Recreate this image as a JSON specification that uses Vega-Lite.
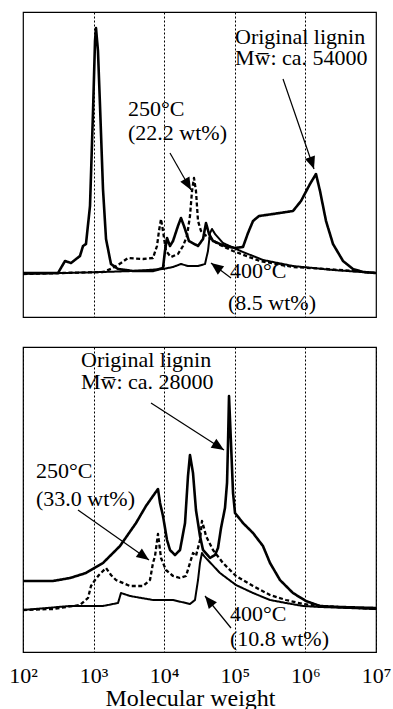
{
  "$schema": "https://vega.github.io/schema/vega-lite/v6.json",
  "background": "white",
  "padding": {"left": 8, "top": 11, "right": 2, "bottom": 2},
  "spacing": 28,
  "config": {
    "font": "Liberation Serif",
    "view": {"stroke": "black", "strokeWidth": 1.2},
    "axis": {"gridColor": "black", "gridDash": [2, 2], "gridWidth": 1, "gridOpacity": 1}
  },
  "datasets": {
    "curves": [
      {"panel": "a", "series": "Original lignin", "log_mw": 2.000, "intensity": 44},
      {"panel": "a", "series": "Original lignin", "log_mw": 2.283, "intensity": 44},
      {"panel": "a", "series": "Original lignin", "log_mw": 2.496, "intensity": 44},
      {"panel": "a", "series": "Original lignin", "log_mw": 2.595, "intensity": 56},
      {"panel": "a", "series": "Original lignin", "log_mw": 2.680, "intensity": 54},
      {"panel": "a", "series": "Original lignin", "log_mw": 2.807, "intensity": 61},
      {"panel": "a", "series": "Original lignin", "log_mw": 2.850, "intensity": 71},
      {"panel": "a", "series": "Original lignin", "log_mw": 2.892, "intensity": 73},
      {"panel": "a", "series": "Original lignin", "log_mw": 2.949, "intensity": 111},
      {"panel": "a", "series": "Original lignin", "log_mw": 2.992, "intensity": 206},
      {"panel": "a", "series": "Original lignin", "log_mw": 3.020, "intensity": 276},
      {"panel": "a", "series": "Original lignin", "log_mw": 3.034, "intensity": 289},
      {"panel": "a", "series": "Original lignin", "log_mw": 3.062, "intensity": 266},
      {"panel": "a", "series": "Original lignin", "log_mw": 3.091, "intensity": 211},
      {"panel": "a", "series": "Original lignin", "log_mw": 3.133, "intensity": 128},
      {"panel": "a", "series": "Original lignin", "log_mw": 3.176, "intensity": 78},
      {"panel": "a", "series": "Original lignin", "log_mw": 3.246, "intensity": 53},
      {"panel": "a", "series": "Original lignin", "log_mw": 3.346, "intensity": 48},
      {"panel": "a", "series": "Original lignin", "log_mw": 3.558, "intensity": 46},
      {"panel": "a", "series": "Original lignin", "log_mw": 3.841, "intensity": 46},
      {"panel": "a", "series": "Original lignin", "log_mw": 3.983, "intensity": 49},
      {"panel": "a", "series": "Original lignin", "log_mw": 4.011, "intensity": 66},
      {"panel": "a", "series": "Original lignin", "log_mw": 4.040, "intensity": 79},
      {"panel": "a", "series": "Original lignin", "log_mw": 4.082, "intensity": 71},
      {"panel": "a", "series": "Original lignin", "log_mw": 4.125, "intensity": 76},
      {"panel": "a", "series": "Original lignin", "log_mw": 4.195, "intensity": 91},
      {"panel": "a", "series": "Original lignin", "log_mw": 4.238, "intensity": 99},
      {"panel": "a", "series": "Original lignin", "log_mw": 4.280, "intensity": 91},
      {"panel": "a", "series": "Original lignin", "log_mw": 4.351, "intensity": 76},
      {"panel": "a", "series": "Original lignin", "log_mw": 4.479, "intensity": 71},
      {"panel": "a", "series": "Original lignin", "log_mw": 4.550, "intensity": 78},
      {"panel": "a", "series": "Original lignin", "log_mw": 4.592, "intensity": 94},
      {"panel": "a", "series": "Original lignin", "log_mw": 4.635, "intensity": 83},
      {"panel": "a", "series": "Original lignin", "log_mw": 4.691, "intensity": 76},
      {"panel": "a", "series": "Original lignin", "log_mw": 4.861, "intensity": 71},
      {"panel": "a", "series": "Original lignin", "log_mw": 5.003, "intensity": 69},
      {"panel": "a", "series": "Original lignin", "log_mw": 5.116, "intensity": 70},
      {"panel": "a", "series": "Original lignin", "log_mw": 5.187, "intensity": 84},
      {"panel": "a", "series": "Original lignin", "log_mw": 5.258, "intensity": 96},
      {"panel": "a", "series": "Original lignin", "log_mw": 5.343, "intensity": 101},
      {"panel": "a", "series": "Original lignin", "log_mw": 5.541, "intensity": 103},
      {"panel": "a", "series": "Original lignin", "log_mw": 5.824, "intensity": 106},
      {"panel": "a", "series": "Original lignin", "log_mw": 5.938, "intensity": 116},
      {"panel": "a", "series": "Original lignin", "log_mw": 6.065, "intensity": 133},
      {"panel": "a", "series": "Original lignin", "log_mw": 6.150, "intensity": 143},
      {"panel": "a", "series": "Original lignin", "log_mw": 6.207, "intensity": 126},
      {"panel": "a", "series": "Original lignin", "log_mw": 6.292, "intensity": 96},
      {"panel": "a", "series": "Original lignin", "log_mw": 6.391, "intensity": 73},
      {"panel": "a", "series": "Original lignin", "log_mw": 6.533, "intensity": 56},
      {"panel": "a", "series": "Original lignin", "log_mw": 6.674, "intensity": 48},
      {"panel": "a", "series": "Original lignin", "log_mw": 6.816, "intensity": 45},
      {"panel": "a", "series": "Original lignin", "log_mw": 7.000, "intensity": 44},

      {"panel": "a", "series": "250°C", "log_mw": 2.000, "intensity": 43},
      {"panel": "a", "series": "250°C", "log_mw": 2.567, "intensity": 44},
      {"panel": "a", "series": "250°C", "log_mw": 3.133, "intensity": 45},
      {"panel": "a", "series": "250°C", "log_mw": 3.275, "intensity": 49},
      {"panel": "a", "series": "250°C", "log_mw": 3.388, "intensity": 54},
      {"panel": "a", "series": "250°C", "log_mw": 3.487, "intensity": 59},
      {"panel": "a", "series": "250°C", "log_mw": 3.700, "intensity": 58},
      {"panel": "a", "series": "250°C", "log_mw": 3.841, "intensity": 59},
      {"panel": "a", "series": "250°C", "log_mw": 3.898, "intensity": 71},
      {"panel": "a", "series": "250°C", "log_mw": 3.926, "intensity": 86},
      {"panel": "a", "series": "250°C", "log_mw": 3.955, "intensity": 98},
      {"panel": "a", "series": "250°C", "log_mw": 3.983, "intensity": 86},
      {"panel": "a", "series": "250°C", "log_mw": 4.025, "intensity": 66},
      {"panel": "a", "series": "250°C", "log_mw": 4.096, "intensity": 60},
      {"panel": "a", "series": "250°C", "log_mw": 4.195, "intensity": 63},
      {"panel": "a", "series": "250°C", "log_mw": 4.266, "intensity": 71},
      {"panel": "a", "series": "250°C", "log_mw": 4.323, "intensity": 81},
      {"panel": "a", "series": "250°C", "log_mw": 4.365, "intensity": 101},
      {"panel": "a", "series": "250°C", "log_mw": 4.394, "intensity": 126},
      {"panel": "a", "series": "250°C", "log_mw": 4.422, "intensity": 139},
      {"panel": "a", "series": "250°C", "log_mw": 4.450, "intensity": 126},
      {"panel": "a", "series": "250°C", "log_mw": 4.479, "intensity": 96},
      {"panel": "a", "series": "250°C", "log_mw": 4.521, "intensity": 86},
      {"panel": "a", "series": "250°C", "log_mw": 4.578, "intensity": 82},
      {"panel": "a", "series": "250°C", "log_mw": 4.649, "intensity": 79},
      {"panel": "a", "series": "250°C", "log_mw": 4.762, "intensity": 73},
      {"panel": "a", "series": "250°C", "log_mw": 4.975, "intensity": 66},
      {"panel": "a", "series": "250°C", "log_mw": 5.357, "intensity": 56},
      {"panel": "a", "series": "250°C", "log_mw": 5.824, "intensity": 50},
      {"panel": "a", "series": "250°C", "log_mw": 6.292, "intensity": 48},
      {"panel": "a", "series": "250°C", "log_mw": 6.674, "intensity": 46},
      {"panel": "a", "series": "250°C", "log_mw": 7.000, "intensity": 44},

      {"panel": "a", "series": "400°C", "log_mw": 2.000, "intensity": 43},
      {"panel": "a", "series": "400°C", "log_mw": 2.567, "intensity": 44},
      {"panel": "a", "series": "400°C", "log_mw": 3.133, "intensity": 45},
      {"panel": "a", "series": "400°C", "log_mw": 3.558, "intensity": 46},
      {"panel": "a", "series": "400°C", "log_mw": 3.983, "intensity": 48},
      {"panel": "a", "series": "400°C", "log_mw": 4.125, "intensity": 50},
      {"panel": "a", "series": "400°C", "log_mw": 4.238, "intensity": 53},
      {"panel": "a", "series": "400°C", "log_mw": 4.337, "intensity": 51},
      {"panel": "a", "series": "400°C", "log_mw": 4.479, "intensity": 51},
      {"panel": "a", "series": "400°C", "log_mw": 4.578, "intensity": 53},
      {"panel": "a", "series": "400°C", "log_mw": 4.620, "intensity": 66},
      {"panel": "a", "series": "400°C", "log_mw": 4.649, "intensity": 84},
      {"panel": "a", "series": "400°C", "log_mw": 4.677, "intensity": 88},
      {"panel": "a", "series": "400°C", "log_mw": 4.720, "intensity": 83},
      {"panel": "a", "series": "400°C", "log_mw": 4.833, "intensity": 74},
      {"panel": "a", "series": "400°C", "log_mw": 5.116, "intensity": 65},
      {"panel": "a", "series": "400°C", "log_mw": 5.399, "intensity": 57},
      {"panel": "a", "series": "400°C", "log_mw": 5.824, "intensity": 51},
      {"panel": "a", "series": "400°C", "log_mw": 6.391, "intensity": 47},
      {"panel": "a", "series": "400°C", "log_mw": 7.000, "intensity": 44},

      {"panel": "b", "series": "Original lignin", "log_mw": 2.000, "intensity": 71},
      {"panel": "b", "series": "Original lignin", "log_mw": 2.425, "intensity": 71},
      {"panel": "b", "series": "Original lignin", "log_mw": 2.666, "intensity": 74},
      {"panel": "b", "series": "Original lignin", "log_mw": 2.892, "intensity": 79},
      {"panel": "b", "series": "Original lignin", "log_mw": 3.133, "intensity": 89},
      {"panel": "b", "series": "Original lignin", "log_mw": 3.374, "intensity": 106},
      {"panel": "b", "series": "Original lignin", "log_mw": 3.601, "intensity": 129},
      {"panel": "b", "series": "Original lignin", "log_mw": 3.742, "intensity": 146},
      {"panel": "b", "series": "Original lignin", "log_mw": 3.841, "intensity": 156},
      {"panel": "b", "series": "Original lignin", "log_mw": 3.912, "intensity": 163},
      {"panel": "b", "series": "Original lignin", "log_mw": 3.941, "intensity": 149},
      {"panel": "b", "series": "Original lignin", "log_mw": 3.983, "intensity": 136},
      {"panel": "b", "series": "Original lignin", "log_mw": 4.040, "intensity": 112},
      {"panel": "b", "series": "Original lignin", "log_mw": 4.082, "intensity": 102},
      {"panel": "b", "series": "Original lignin", "log_mw": 4.153, "intensity": 97},
      {"panel": "b", "series": "Original lignin", "log_mw": 4.224, "intensity": 102},
      {"panel": "b", "series": "Original lignin", "log_mw": 4.295, "intensity": 129},
      {"panel": "b", "series": "Original lignin", "log_mw": 4.337, "intensity": 176},
      {"panel": "b", "series": "Original lignin", "log_mw": 4.365, "intensity": 197},
      {"panel": "b", "series": "Original lignin", "log_mw": 4.408, "intensity": 179},
      {"panel": "b", "series": "Original lignin", "log_mw": 4.450, "intensity": 142},
      {"panel": "b", "series": "Original lignin", "log_mw": 4.507, "intensity": 116},
      {"panel": "b", "series": "Original lignin", "log_mw": 4.550, "intensity": 102},
      {"panel": "b", "series": "Original lignin", "log_mw": 4.649, "intensity": 94},
      {"panel": "b", "series": "Original lignin", "log_mw": 4.720, "intensity": 97},
      {"panel": "b", "series": "Original lignin", "log_mw": 4.762, "intensity": 104},
      {"panel": "b", "series": "Original lignin", "log_mw": 4.805, "intensity": 124},
      {"panel": "b", "series": "Original lignin", "log_mw": 4.861, "intensity": 144},
      {"panel": "b", "series": "Original lignin", "log_mw": 4.890, "intensity": 169},
      {"panel": "b", "series": "Original lignin", "log_mw": 4.904, "intensity": 209},
      {"panel": "b", "series": "Original lignin", "log_mw": 4.918, "intensity": 256},
      {"panel": "b", "series": "Original lignin", "log_mw": 4.946, "intensity": 209},
      {"panel": "b", "series": "Original lignin", "log_mw": 4.975, "intensity": 159},
      {"panel": "b", "series": "Original lignin", "log_mw": 5.003, "intensity": 139},
      {"panel": "b", "series": "Original lignin", "log_mw": 5.116, "intensity": 129},
      {"panel": "b", "series": "Original lignin", "log_mw": 5.258, "intensity": 119},
      {"panel": "b", "series": "Original lignin", "log_mw": 5.399, "intensity": 106},
      {"panel": "b", "series": "Original lignin", "log_mw": 5.499, "intensity": 89},
      {"panel": "b", "series": "Original lignin", "log_mw": 5.640, "intensity": 72},
      {"panel": "b", "series": "Original lignin", "log_mw": 5.824, "intensity": 59},
      {"panel": "b", "series": "Original lignin", "log_mw": 6.008, "intensity": 51},
      {"panel": "b", "series": "Original lignin", "log_mw": 6.207, "intensity": 46},
      {"panel": "b", "series": "Original lignin", "log_mw": 6.490, "intensity": 45},
      {"panel": "b", "series": "Original lignin", "log_mw": 7.000, "intensity": 44},

      {"panel": "b", "series": "250°C", "log_mw": 2.000, "intensity": 42},
      {"panel": "b", "series": "250°C", "log_mw": 2.425, "intensity": 43},
      {"panel": "b", "series": "250°C", "log_mw": 2.807, "intensity": 47},
      {"panel": "b", "series": "250°C", "log_mw": 2.921, "intensity": 54},
      {"panel": "b", "series": "250°C", "log_mw": 2.963, "intensity": 66},
      {"panel": "b", "series": "250°C", "log_mw": 3.020, "intensity": 72},
      {"panel": "b", "series": "250°C", "log_mw": 3.076, "intensity": 77},
      {"panel": "b", "series": "250°C", "log_mw": 3.176, "intensity": 84},
      {"panel": "b", "series": "250°C", "log_mw": 3.246, "intensity": 77},
      {"panel": "b", "series": "250°C", "log_mw": 3.317, "intensity": 72},
      {"panel": "b", "series": "250°C", "log_mw": 3.516, "intensity": 66},
      {"panel": "b", "series": "250°C", "log_mw": 3.700, "intensity": 66},
      {"panel": "b", "series": "250°C", "log_mw": 3.799, "intensity": 72},
      {"panel": "b", "series": "250°C", "log_mw": 3.841, "intensity": 89},
      {"panel": "b", "series": "250°C", "log_mw": 3.870, "intensity": 96},
      {"panel": "b", "series": "250°C", "log_mw": 3.912, "intensity": 118},
      {"panel": "b", "series": "250°C", "log_mw": 3.955, "intensity": 94},
      {"panel": "b", "series": "250°C", "log_mw": 4.025, "intensity": 82},
      {"panel": "b", "series": "250°C", "log_mw": 4.125, "intensity": 76},
      {"panel": "b", "series": "250°C", "log_mw": 4.224, "intensity": 74},
      {"panel": "b", "series": "250°C", "log_mw": 4.309, "intensity": 76},
      {"panel": "b", "series": "250°C", "log_mw": 4.365, "intensity": 89},
      {"panel": "b", "series": "250°C", "log_mw": 4.408, "intensity": 99},
      {"panel": "b", "series": "250°C", "log_mw": 4.450, "intensity": 96},
      {"panel": "b", "series": "250°C", "log_mw": 4.507, "intensity": 112},
      {"panel": "b", "series": "250°C", "log_mw": 4.535, "intensity": 131},
      {"panel": "b", "series": "250°C", "log_mw": 4.564, "intensity": 124},
      {"panel": "b", "series": "250°C", "log_mw": 4.592, "intensity": 116},
      {"panel": "b", "series": "250°C", "log_mw": 4.691, "intensity": 102},
      {"panel": "b", "series": "250°C", "log_mw": 4.833, "intensity": 89},
      {"panel": "b", "series": "250°C", "log_mw": 5.017, "intensity": 76},
      {"panel": "b", "series": "250°C", "log_mw": 5.258, "intensity": 66},
      {"panel": "b", "series": "250°C", "log_mw": 5.499, "intensity": 57},
      {"panel": "b", "series": "250°C", "log_mw": 5.725, "intensity": 52},
      {"panel": "b", "series": "250°C", "log_mw": 5.966, "intensity": 48},
      {"panel": "b", "series": "250°C", "log_mw": 6.207, "intensity": 46},
      {"panel": "b", "series": "250°C", "log_mw": 7.000, "intensity": 43},

      {"panel": "b", "series": "400°C", "log_mw": 2.000, "intensity": 42},
      {"panel": "b", "series": "400°C", "log_mw": 2.666, "intensity": 46},
      {"panel": "b", "series": "400°C", "log_mw": 3.133, "intensity": 46},
      {"panel": "b", "series": "400°C", "log_mw": 3.346, "intensity": 49},
      {"panel": "b", "series": "400°C", "log_mw": 3.388, "intensity": 59},
      {"panel": "b", "series": "400°C", "log_mw": 3.516, "intensity": 56},
      {"panel": "b", "series": "400°C", "log_mw": 3.841, "intensity": 52},
      {"panel": "b", "series": "400°C", "log_mw": 4.125, "intensity": 52},
      {"panel": "b", "series": "400°C", "log_mw": 4.365, "intensity": 48},
      {"panel": "b", "series": "400°C", "log_mw": 4.436, "intensity": 52},
      {"panel": "b", "series": "400°C", "log_mw": 4.479, "intensity": 72},
      {"panel": "b", "series": "400°C", "log_mw": 4.507, "intensity": 89},
      {"panel": "b", "series": "400°C", "log_mw": 4.535, "intensity": 99},
      {"panel": "b", "series": "400°C", "log_mw": 4.564, "intensity": 96},
      {"panel": "b", "series": "400°C", "log_mw": 4.790, "intensity": 79},
      {"panel": "b", "series": "400°C", "log_mw": 5.017, "intensity": 67},
      {"panel": "b", "series": "400°C", "log_mw": 5.258, "intensity": 59},
      {"panel": "b", "series": "400°C", "log_mw": 5.499, "intensity": 52},
      {"panel": "b", "series": "400°C", "log_mw": 5.725, "intensity": 49},
      {"panel": "b", "series": "400°C", "log_mw": 5.966, "intensity": 46},
      {"panel": "b", "series": "400°C", "log_mw": 6.207, "intensity": 45},
      {"panel": "b", "series": "400°C", "log_mw": 7.000, "intensity": 43}
    ],
    "labels": [
      {"panel": "a", "text": "Original lignin", "log_mw": 5.003, "intensity": 273},
      {"panel": "a", "text": "Mw̅: ca. 54000", "log_mw": 5.003, "intensity": 252},
      {"panel": "a", "text": "250°C", "log_mw": 3.487, "intensity": 201},
      {"panel": "a", "text": "(22.2 wt%)", "log_mw": 3.487, "intensity": 177},
      {"panel": "a", "text": "400°C", "log_mw": 4.932, "intensity": 39},
      {"panel": "a", "text": "(8.5 wt%)", "log_mw": 4.904, "intensity": 7},
      {"panel": "b", "text": "Original lignin", "log_mw": 2.822, "intensity": 285},
      {"panel": "b", "text": "Mw̅: ca. 28000", "log_mw": 2.822, "intensity": 263},
      {"panel": "b", "text": "250°C", "log_mw": 2.184, "intensity": 174},
      {"panel": "b", "text": "(33.0 wt%)", "log_mw": 2.184, "intensity": 146},
      {"panel": "b", "text": "400°C", "log_mw": 4.932, "intensity": 31},
      {"panel": "b", "text": "(10.8 wt%)", "log_mw": 4.932, "intensity": 6}
    ],
    "arrows": [
      {"panel": "a", "log_mw": 5.683, "intensity": 238, "log_mw2": 6.122, "intensity2": 148},
      {"panel": "a", "log_mw": 4.082, "intensity": 164, "log_mw2": 4.380, "intensity2": 127},
      {"panel": "a", "log_mw": 4.946, "intensity": 39, "log_mw2": 4.663, "intensity2": 54},
      {"panel": "b", "log_mw": 3.813, "intensity": 249, "log_mw2": 4.847, "intensity2": 202},
      {"panel": "b", "log_mw": 2.779, "intensity": 142, "log_mw2": 3.785, "intensity2": 92},
      {"panel": "b", "log_mw": 4.946, "intensity": 24, "log_mw2": 4.578, "intensity2": 56}
    ]
  },
  "vconcat": [
    {
      "width": 353,
      "height": 305,
      "layer": [
        {
          "data": {"name": "curves"},
          "transform": [{"filter": "datum.panel == 'a'"}],
          "mark": {"type": "line", "color": "black", "strokeJoin": "round"},
          "encoding": {
            "x": {"field": "log_mw", "type": "quantitative", "scale": {"domain": [2, 7], "nice": false, "zero": false},
                  "axis": {"values": [3, 4, 5, 6], "labels": false, "ticks": false, "domain": false, "title": null, "grid": true}},
            "y": {"field": "intensity", "type": "quantitative", "scale": {"domain": [0, 305], "nice": false, "zero": false}, "axis": null},
            "strokeDash": {"field": "series", "type": "nominal", "scale": {"domain": ["Original lignin", "250°C", "400°C"], "range": [[1, 0], [4, 2.5], [1, 0]]}, "legend": null},
            "strokeWidth": {"field": "series", "type": "ordinal", "scale": {"domain": ["Original lignin", "250°C", "400°C"], "range": [2.6, 2, 1.3]}, "legend": null}
          }
        },
        {
          "data": {"name": "labels"},
          "transform": [{"filter": "datum.panel == 'a'"}],
          "mark": {"type": "text", "align": "left", "baseline": "alphabetic", "fontSize": 22, "font": "Liberation Serif", "color": "black"},
          "encoding": {
            "x": {"field": "log_mw", "type": "quantitative"},
            "y": {"field": "intensity", "type": "quantitative"},
            "text": {"field": "text"}
          }
        },
        {
          "data": {"name": "arrows"},
          "transform": [{"filter": "datum.panel == 'a'"}],
          "mark": {"type": "rule", "color": "black", "strokeWidth": 1.2},
          "encoding": {
            "x": {"field": "log_mw", "type": "quantitative"},
            "y": {"field": "intensity", "type": "quantitative"},
            "x2": {"field": "log_mw2"},
            "y2": {"field": "intensity2"}
          }
        },
        {
          "data": {"name": "arrows"},
          "transform": [
            {"filter": "datum.panel == 'a'"},
            {"calculate": "atan2((datum.log_mw2 - datum.log_mw) * 70.6, datum.intensity2 - datum.intensity) * 180 / PI", "as": "heading"}
          ],
          "mark": {"type": "point", "shape": "M0,0L-0.42,1L0.42,1Z", "filled": true, "color": "black", "opacity": 1, "size": 620},
          "encoding": {
            "x": {"field": "log_mw2", "type": "quantitative"},
            "y": {"field": "intensity2", "type": "quantitative"},
            "angle": {"field": "heading", "type": "quantitative", "scale": null}
          }
        }
      ]
    },
    {
      "width": 353,
      "height": 305,
      "layer": [
        {
          "data": {"name": "curves"},
          "transform": [{"filter": "datum.panel == 'b'"}],
          "mark": {"type": "line", "color": "black", "strokeJoin": "round"},
          "encoding": {
            "x": {"field": "log_mw", "type": "quantitative", "scale": {"domain": [2, 7], "nice": false, "zero": false},
                  "axis": {"values": [2, 3, 4, 5, 6, 7], "labelExpr": "datum.value == 2 ? '10²' : datum.value == 3 ? '10³' : datum.value == 4 ? '10⁴' : datum.value == 5 ? '10⁵' : datum.value == 6 ? '10⁶' : '10⁷'",
                           "labelFont": "Liberation Serif", "labelFontSize": 22, "labelColor": "black", "labelPadding": 13, "labelFlush": false, "labelOverlap": false, "labelDx": 3,
                           "ticks": false, "domain": false, "grid": true,
                           "title": "Molecular weight", "titleFont": "Liberation Serif", "titleFontSize": 24, "titleFontWeight": "normal", "titleColor": "black",
                           "titleX": 167, "titleY": 53, "titleBaseline": "alphabetic", "titleAlign": "center"}},
            "y": {"field": "intensity", "type": "quantitative", "scale": {"domain": [0, 305], "nice": false, "zero": false}, "axis": null},
            "strokeDash": {"field": "series", "type": "nominal", "scale": {"domain": ["Original lignin", "250°C", "400°C"], "range": [[1, 0], [4, 2.5], [1, 0]]}, "legend": null},
            "strokeWidth": {"field": "series", "type": "ordinal", "scale": {"domain": ["Original lignin", "250°C", "400°C"], "range": [2.6, 2, 1.3]}, "legend": null}
          }
        },
        {
          "data": {"name": "labels"},
          "transform": [{"filter": "datum.panel == 'b'"}],
          "mark": {"type": "text", "align": "left", "baseline": "alphabetic", "fontSize": 22, "font": "Liberation Serif", "color": "black"},
          "encoding": {
            "x": {"field": "log_mw", "type": "quantitative"},
            "y": {"field": "intensity", "type": "quantitative"},
            "text": {"field": "text"}
          }
        },
        {
          "data": {"name": "arrows"},
          "transform": [{"filter": "datum.panel == 'b'"}],
          "mark": {"type": "rule", "color": "black", "strokeWidth": 1.2},
          "encoding": {
            "x": {"field": "log_mw", "type": "quantitative"},
            "y": {"field": "intensity", "type": "quantitative"},
            "x2": {"field": "log_mw2"},
            "y2": {"field": "intensity2"}
          }
        },
        {
          "data": {"name": "arrows"},
          "transform": [
            {"filter": "datum.panel == 'b'"},
            {"calculate": "atan2((datum.log_mw2 - datum.log_mw) * 70.6, datum.intensity2 - datum.intensity) * 180 / PI", "as": "heading"}
          ],
          "mark": {"type": "point", "shape": "M0,0L-0.42,1L0.42,1Z", "filled": true, "color": "black", "opacity": 1, "size": 620},
          "encoding": {
            "x": {"field": "log_mw2", "type": "quantitative"},
            "y": {"field": "intensity2", "type": "quantitative"},
            "angle": {"field": "heading", "type": "quantitative", "scale": null}
          }
        }
      ]
    }
  ]
}
